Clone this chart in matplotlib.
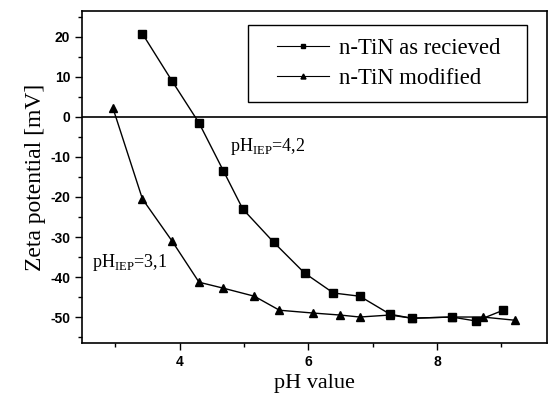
import matplotlib
matplotlib.use("Agg")
import matplotlib.pyplot as plt
from matplotlib.patches import Rectangle
from matplotlib.ticker import MultipleLocator

# data
ph_received = [3.42, 3.88, 4.30, 4.68, 4.98, 5.46, 5.94, 6.39, 6.80, 7.27, 7.61, 8.23, 8.61, 9.03]
zeta_received = [20.8, 9.0, -1.5, -13.5, -23.0, -31.3, -39.0, -44.0, -44.8, -49.3, -50.3, -50.0, -51.0, -48.3]

ph_modified = [2.96, 3.42, 3.88, 4.30, 4.68, 5.16, 5.55, 6.07, 6.49, 6.80, 7.27, 7.61, 8.23, 8.71, 9.21]
zeta_modified = [2.3, -20.5, -31.0, -41.3, -42.8, -44.8, -48.3, -49.0, -49.5, -50.0, -49.5, -50.3, -50.0, -50.0, -50.8]

serif = "Liberation Serif"
sans = "Liberation Sans"
plt.rcParams['mathtext.fontset'] = 'custom'
plt.rcParams['mathtext.rm'] = serif
plt.rcParams['axes.unicode_minus'] = False

fig = plt.figure(figsize=(5.48, 4.05), dpi=100)
ax = fig.add_axes([0.1496, 0.153, 0.8485, 0.82])

ax.plot(ph_received, zeta_received, color='black', lw=1, marker='s', ms=5.5,
        label='n-TiN as recieved')
ax.plot(ph_modified, zeta_modified, color='black', lw=1, marker='^', ms=6,
        label='n-TiN modified')

# zero line
ax.axhline(0, color='black', lw=1.2)

ax.set_xlim(2.48, 9.71)
ax.set_ylim(-56.5, 26.5)
ax.xaxis.set_major_locator(MultipleLocator(2))
ax.xaxis.set_minor_locator(MultipleLocator(1))
ax.yaxis.set_major_locator(MultipleLocator(10))
ax.yaxis.set_minor_locator(MultipleLocator(5))
ax.tick_params(which='major', direction='out', length=5, width=1, labelsize=10)
ax.tick_params(which='minor', direction='out', length=3, width=1)
for lbl in ax.get_xticklabels() + ax.get_yticklabels():
    lbl.set_fontfamily(sans)
    lbl.set_fontweight('bold')
for sp in ax.spines.values():
    sp.set_linewidth(1.2)

ax.set_xlabel('pH value', fontfamily=serif, fontsize=16)
ax.set_ylabel('Zeta potential [mV]', fontfamily=serif, fontsize=17, labelpad=3)

# annotations
ax.text(4.78, -8.5, r'pH$_{\mathrm{IEP}}$=4,2', fontfamily=serif, fontsize=13)
ax.text(2.63, -37.5, r'pH$_{\mathrm{IEP}}$=3,1', fontfamily=serif, fontsize=13)

# legend without its own frame, the box is drawn separately to get the wide padding
leg = ax.legend(loc='upper left', bbox_to_anchor=(0.419, 0.918), frameon=False,
                prop={'family': serif, 'size': 16.3}, markerscale=0.6,
                handlelength=2.3, handletextpad=0.45, borderpad=0,
                borderaxespad=0, labelspacing=0.4)
for h in leg.get_lines():
    h.set_linewidth(0.8)
ax.add_patch(Rectangle((0.357, 0.726), 0.600, 0.232, transform=ax.transAxes,
                       fill=False, edgecolor='black', lw=1, zorder=5))

fig.savefig('out.png', dpi=100)
